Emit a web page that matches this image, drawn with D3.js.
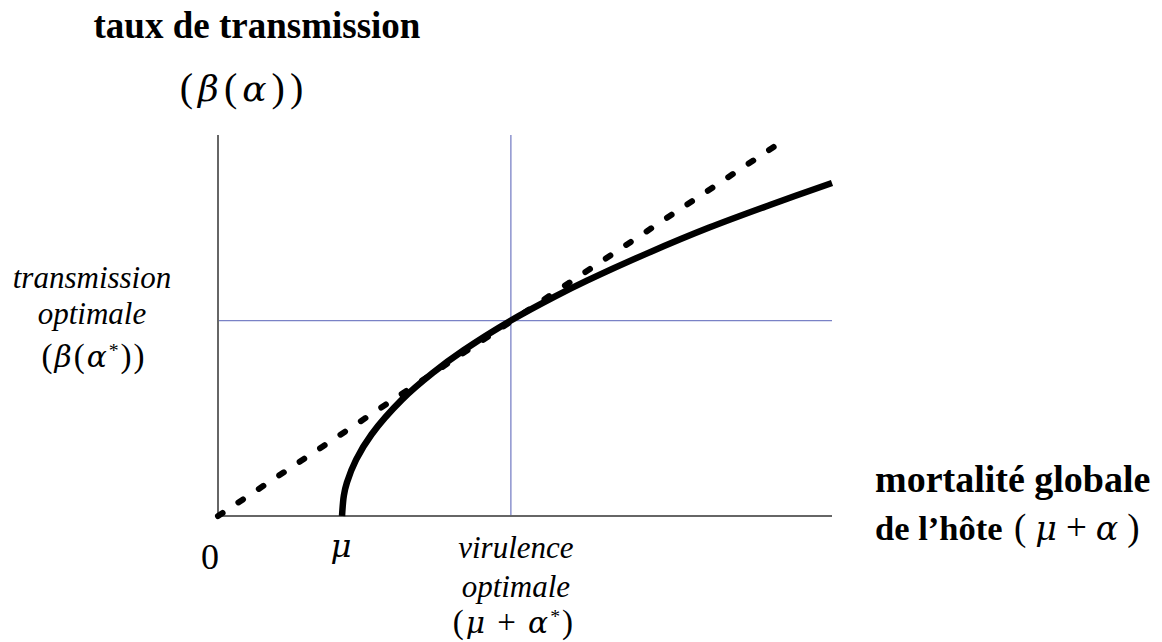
<!DOCTYPE html>
<html>
<head>
<meta charset="utf-8">
<script src="https://cdn.jsdelivr.net/npm/d3@7"></script>
<style>
  html, body { margin: 0; padding: 0; background: #fff; }
  svg { display: block; }
  text { font-family: "Liberation Serif", "Times New Roman", serif; fill: #000; }
</style>
</head>
<body>
<div id="chart"></div>
<script>
// Optimal virulence diagram
const curveX = [2.02, 2.05, 2.1, 2.25, 2.5, 3.0, 3.5, 4.0, 4.77, 5.5, 6.0, 7.0, 8.0, 9.0, 10.0];
const curveY = [0, 0.54, 0.88, 1.48, 2.14, 3.06, 3.76, 4.35, 5.13, 5.77, 6.17, 6.90, 7.57, 8.17, 8.74];
const tangentX = [0, 9.12];
const tangentY = [0, 9.76];
const optX = 4.77;
const optY = 5.13;
const muX = 2.02;

const width = 1162, height = 642;

const svg = d3.select('#chart')
  .append('svg')
  .attr('width', width)
  .attr('height', height);

const x = d3.scaleLinear().domain([0, 10]).range([218, 832]);
const y = d3.scaleLinear().domain([0, 10]).range([516, 135]);

// Guide lines at the optimum
const blue = '#7a82c6';
svg.append('line')
  .attr('x1', x(optX)).attr('x2', x(optX))
  .attr('y1', y(0)).attr('y2', y(10))
  .attr('stroke', blue).attr('stroke-width', 1.3);
svg.append('line')
  .attr('x1', x(0)).attr('x2', x(10))
  .attr('y1', y(optY)).attr('y2', y(optY))
  .attr('stroke', blue).attr('stroke-width', 1.3);

// Axes (plain lines, no ticks)
svg.append('line')
  .attr('x1', x(0)).attr('x2', x(0))
  .attr('y1', y(0)).attr('y2', y(10))
  .attr('stroke', '#666').attr('stroke-width', 2);
svg.append('line')
  .attr('x1', x(0)).attr('x2', x(10))
  .attr('y1', y(0)).attr('y2', y(0))
  .attr('stroke', '#666').attr('stroke-width', 2);

// Tangent through origin (dashed)
const line = d3.line().x(d => x(d[0])).y(d => y(d[1]));
svg.append('path')
  .datum(d3.zip(tangentX, tangentY))
  .attr('d', line)
  .attr('fill', 'none')
  .attr('stroke', '#000')
  .attr('stroke-width', 6)
  .attr('stroke-linecap', 'round')
  .attr('stroke-dasharray', '5.5,19');

// Transmission curve
svg.append('path')
  .datum(d3.zip(curveX, curveY))
  .attr('d', line.curve(d3.curveCatmullRom))
  .attr('fill', 'none')
  .attr('stroke', '#000')
  .attr('stroke-width', 6.5);

// Labels
function addText(t, px, py, opts = {}) {
  return svg.append('text')
    .attr('x', px).attr('y', py)
    .attr('text-anchor', opts.anchor || 'middle')
    .attr('font-size', opts.size || 24)
    .attr('font-weight', opts.bold ? 'bold' : 'normal')
    .attr('font-style', opts.italic ? 'italic' : 'normal')
    .text(t);
}

// math-style label: parts = [text, kind] with kind 'g' greek, 's' superscript, 'd' back down
function addMath(parts, px, py, size, anchor, spacing) {
  const t = svg.append('text')
    .attr('x', px).attr('y', py)
    .attr('text-anchor', anchor || 'middle')
    .attr('font-size', size)
    .attr('letter-spacing', spacing == null ? size * 0.06 : spacing);
  parts.forEach(p => {
    const s = t.append('tspan').text(p[0]);
    if (p[1] === 'g') s.attr('font-style', 'italic').attr('font-family', '"DejaVu Serif", serif').attr('font-size', size * 0.9);
    if (p[1] === 's') s.attr('dy', -size * 0.3).attr('font-size', size * 0.6);
    if (p[1] === 'd') s.attr('dy', size * 0.3);
  });
  return t;
}

addText('taux de transmission', 257, 38, { size: 37, bold: true });
addMath([['('], ['β', 'g'], ['('], ['α', 'g'], ['))']], 244, 101, 40, 'middle', 5);

addText('transmission', 92, 288, { size: 31, italic: true });
addText('optimale', 92, 324, { size: 31, italic: true });
addMath([['('], ['β', 'g'], ['('], ['α', 'g'], ['*', 's'], ['))', 'd']], 94, 367, 33);

addText('0', x(0) - 8, 569, { size: 36 });
addMath([['μ', 'g']], x(muX), 557, 36);

addText('virulence', x(optX) + 5, 558, { size: 31, italic: true });
addText('optimale', x(optX) + 5, 597, { size: 31, italic: true });
addMath([['('], ['μ', 'g'], [' + '], ['α', 'g'], ['*', 's'], [')', 'd']], x(optX) + 3, 633, 33);

addText('mortalité globale', 875, 492, { size: 38, bold: true, anchor: 'start' });
addText('de l’hôte', 875, 540, { size: 34.5, bold: true, anchor: 'start' });
addMath([['('], ['μ', 'g'], ['+'], ['α', 'g'], [')']], 1014, 540, 37, 'start', 9);
</script>
</body>
</html>
